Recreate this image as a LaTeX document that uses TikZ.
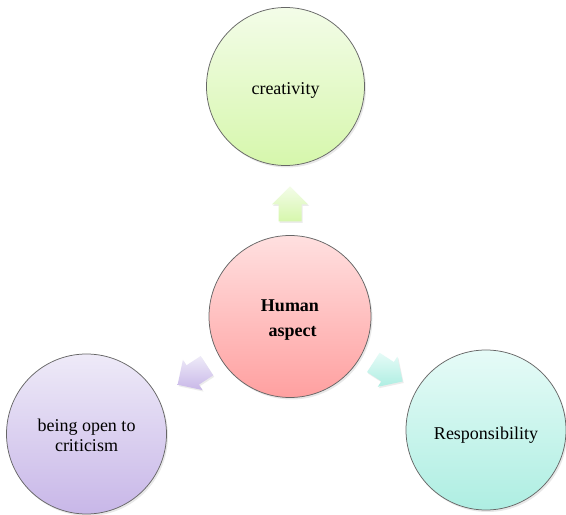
\documentclass[tikz,border=0pt]{standalone}
\usepackage{fontspec}
\setmainfont{Liberation Serif}
\newfontfamily\timesfont{Liberation Serif}
\usetikzlibrary{shadows,calc}
\definecolor{gTop}{HTML}{F3FCE8}\definecolor{gBot}{HTML}{D6F7AC}
\definecolor{pTop}{HTML}{FFE0E0}\definecolor{pBot}{HTML}{FFA0A0}
\definecolor{vTop}{HTML}{EEEAF8}\definecolor{vBot}{HTML}{C8B7E8}
\definecolor{cTop}{HTML}{E6FBF7}\definecolor{cBot}{HTML}{AEEEE2}
\definecolor{rim}{HTML}{666666}
\tikzset{
  bubble/.style={circle, draw=rim, line width=0.75pt, inner sep=0pt,
    drop shadow={opacity=0.18, shadow xshift=1.5pt, shadow yshift=-2pt}},
  txt/.style={font=\timesfont\fontsize{18}{20}\selectfont, align=center, inner sep=0pt},
  blockarrow/.style={draw=none,
    drop shadow={opacity=0.15, shadow xshift=1pt, shadow yshift=-1.5pt}},
}
\newcommand{\blockarr}[3]{%
  \begin{scope}[shift={#1}, rotate=#2]
    \path[blockarrow, #3] (-17.5,-11.5) -- (-0.5,-11.5) -- (-0.5,-18) -- (17.5,0)
      -- (-0.5,18) -- (-0.5,11.5) -- (-17.5,11.5) -- cycle;
  \end{scope}}
\begin{document}
\begin{tikzpicture}[x=1pt, y=1pt]
\useasboundingbox[fill=white] (0,0) rectangle (566,515);
% circles
\node[bubble, minimum size=158pt, top color=gTop, bottom color=gBot] (top) at (285.5,428.5) {};
\node[bubble, minimum size=162pt, top color=pTop, bottom color=pBot] (hub) at (290,198.5) {};
\node[bubble, minimum size=160pt, top color=vTop, bottom color=vBot] (left) at (86.5,81) {};
\node[bubble, minimum size=160pt, top color=cTop, bottom color=cBot] (right) at (486,85) {};
% labels
\node[txt] (topT) at ([yshift=-4pt]top.center) {creativity};
\node[txt, font=\timesfont\fontsize{18}{25}\selectfont\bfseries] (hubT) at ([yshift=-3.5pt]hub.center) {Human\\\hspace*{5pt}aspect};
\node[txt] (leftT) at ([yshift=-1pt]left.center) {being open to\\criticism};
\node[txt] (rightT) at ([yshift=-5pt]right.center) {Responsibility};
% block arrows
\coordinate (aUp) at ($(hub.center)+(90:112.5)$);
\coordinate (aLeft) at ($(hub.center)+(211:114)$);
\coordinate (aRight) at ($(hub.center)+(-29.5:112.6)$);
\blockarr{(aUp)}{90}{top color=gTop, bottom color=gBot}
\blockarr{(aLeft)}{213}{top color=vTop, bottom color=vBot}
\blockarr{(aRight)}{-33}{top color=cTop, bottom color=cBot}
\end{tikzpicture}
\end{document}
